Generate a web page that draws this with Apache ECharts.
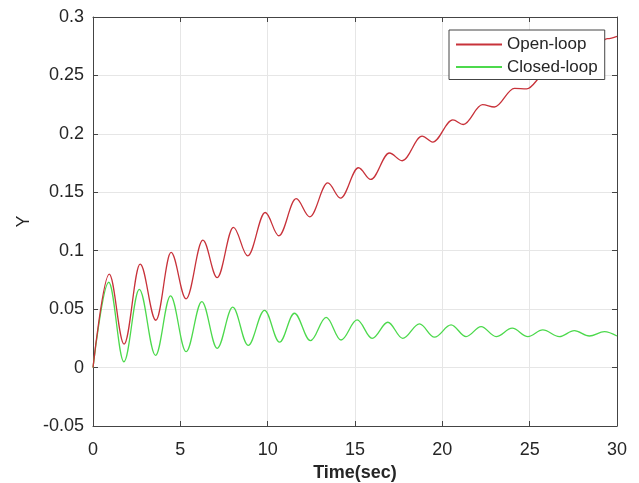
<!DOCTYPE html>
<html>
<head>
<meta charset="utf-8">
<script src="https://cdn.jsdelivr.net/npm/echarts@6/dist/echarts.min.js"></script>
<style>
html,body{margin:0;padding:0;background:#fff;}
#c{width:639px;height:483px;}
</style>
</head>
<body>
<div id="c"></div>
<script>
// Extrema (time in s, response Y)
const openTime = [0, 0.93, 1.78, 2.70, 3.60, 4.47, 5.33, 6.29, 7.11, 8.04, 8.86, 9.86, 10.64, 11.63, 12.41, 13.44, 14.17, 15.20, 15.90, 16.97, 17.70, 18.84, 19.45, 20.60, 21.20, 22.30, 22.98, 24.13, 24.83, 25.90, 26.60, 27.70, 28.40, 29.45, 30];
const openY    = [0, 0.080, 0.020, 0.0885, 0.0405, 0.0985, 0.0588, 0.109, 0.077, 0.120, 0.0956, 0.1327, 0.1128, 0.1445, 0.129, 0.158, 0.145, 0.171, 0.161, 0.1836, 0.177, 0.198, 0.193, 0.212, 0.208, 0.225, 0.223, 0.239, 0.2385, 0.2515, 0.2525, 0.265, 0.267, 0.2815, 0.2835];
const closedTime = [0, 0.90, 1.77, 2.65, 3.58, 4.44, 5.33, 6.23, 7.11, 8.00, 8.88, 9.82, 10.68, 11.53, 12.45, 13.35, 14.20, 15.12, 15.98, 16.88, 17.73, 18.69, 19.55, 20.50, 21.36, 22.22, 23.08, 24.00, 24.90, 25.75, 26.70, 27.56, 28.42, 29.28, 30];
const closedY    = [0, 0.073, 0.005, 0.067, 0.0105, 0.0614, 0.0136, 0.0565, 0.0165, 0.0517, 0.019, 0.049, 0.0217, 0.0465, 0.023, 0.043, 0.0236, 0.0408, 0.025, 0.0388, 0.025, 0.0374, 0.026, 0.0365, 0.0265, 0.035, 0.0265, 0.0337, 0.0265, 0.0322, 0.0265, 0.0316, 0.027, 0.0308, 0.027];
const seriesNames = ['Open-loop', 'Closed-loop'];
const xTitle = 'Time(sec)';
const yTitle = 'Y';

const pairs = (t, y) => t.map((v, i) => [v, y[i]]);
const FONT = 'Liberation Sans, Arial, Helvetica, sans-serif';
const AX = '#444';
const RED = '#c8323a';
const GREEN = '#4cd94c';
const chart = echarts.init(document.getElementById('c'), null, {renderer: 'canvas'});
const fmt = v => String(Math.round(v * 100) / 100);
const boxAxis = {
  axisLine: {show: true, onZero: false, lineStyle: {color: AX, width: 1}},
  axisTick: {show: true, inside: true, length: 5, lineStyle: {color: AX}},
  axisLabel: {show: false},
  splitLine: {show: false}
};
chart.setOption({
  animation: false,
  backgroundColor: '#fff',
  textStyle: {fontFamily: FONT},
  grid: {left: 93, right: 22, top: 17, bottom: 57, containLabel: false, outerBoundsMode: 'none'},
  legend: {
    orient: 'vertical',
    left: 449, top: 30,
    data: seriesNames,
    itemWidth: 46, itemHeight: 14, itemGap: 5.5,
    itemStyle: {opacity: 0},
    padding: [6, 7, 4, 6],
    backgroundColor: '#fff',
    borderColor: AX, borderWidth: 1, borderRadius: 0,
    textStyle: {fontSize: 17, color: '#262626', fontFamily: FONT}
  },
  xAxis: [
    {
      type: 'value', min: 0, max: 30, interval: 5, position: 'bottom',
      name: xTitle, nameLocation: 'middle', nameGap: 38,
      nameTextStyle: {fontSize: 18, fontWeight: 'bold', color: '#262626', fontFamily: FONT},
      axisLine: {show: true, onZero: false, lineStyle: {color: AX, width: 1}},
      axisTick: {show: true, inside: true, length: 5, lineStyle: {color: AX}},
      axisLabel: {fontSize: 18, color: '#262626', margin: 15, fontFamily: FONT, formatter: fmt},
      splitLine: {show: true, lineStyle: {color: '#e6e6e6', width: 1}}
    },
    Object.assign({type: 'value', min: 0, max: 30, interval: 5, position: 'top'}, boxAxis)
  ],
  yAxis: [
    {
      type: 'value', min: -0.05, max: 0.3, interval: 0.05, position: 'left',
      name: yTitle, nameLocation: 'middle', nameGap: 60, nameRotate: 90, nameMoveOverlap: false,
      nameTextStyle: {fontSize: 18, color: '#262626', fontFamily: FONT},
      axisLine: {show: true, onZero: false, lineStyle: {color: AX, width: 1}},
      axisTick: {show: true, inside: true, length: 5, lineStyle: {color: AX}},
      axisLabel: {fontSize: 18, color: '#262626', margin: 9, fontFamily: FONT, formatter: fmt},
      splitLine: {show: true, lineStyle: {color: '#e6e6e6', width: 1}}
    },
    Object.assign({type: 'value', min: -0.05, max: 0.3, interval: 0.05, position: 'right'}, boxAxis)
  ],
  series: [
    {
      name: seriesNames[0], type: 'line', xAxisIndex: 0, yAxisIndex: 0,
      data: pairs(openTime, openY),
      symbol: 'none', smooth: 0.36, smoothMonotone: 'x',
      lineStyle: {color: RED, width: 1.3},
      itemStyle: {color: RED}, z: 3
    },
    {
      name: seriesNames[1], type: 'line', xAxisIndex: 0, yAxisIndex: 0,
      data: pairs(closedTime, closedY),
      symbol: 'none', smooth: 0.36, smoothMonotone: 'x',
      lineStyle: {color: GREEN, width: 1.3},
      itemStyle: {color: GREEN}, z: 2
    }
  ]
});
</script>
</body>
</html>
